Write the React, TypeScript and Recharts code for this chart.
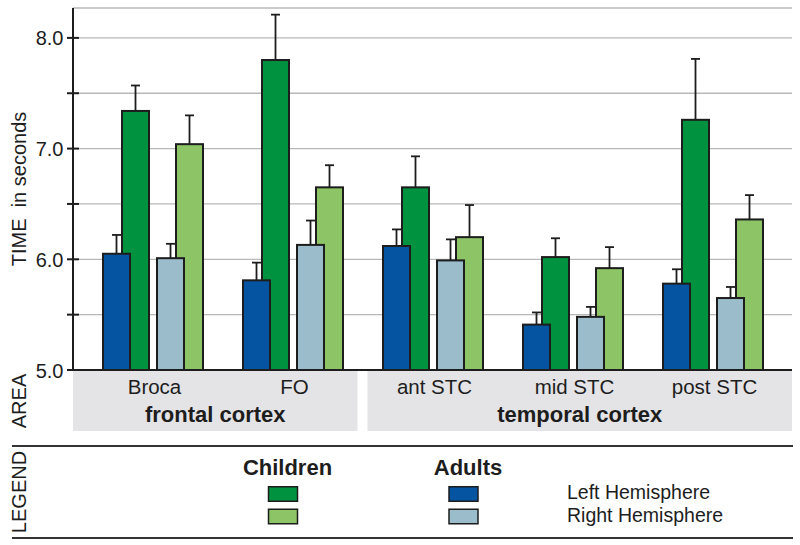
import { BarChart, Bar, XAxis, YAxis, CartesianGrid, Label } from 'recharts';

// Areas and their cortex groups
const areas = ['Broca', 'FO', 'ant STC', 'mid STC', 'post STC'];
const regions = [
  { name: 'frontal cortex', size: 2 },
  { name: 'temporal cortex', size: 3 },
];

// Mean time (s) and error per area
const childrenLeft = [7.34, 7.8, 6.65, 6.02, 7.26];
const childrenLeftErr = [0.23, 0.41, 0.28, 0.17, 0.55];
const adultsLeft = [6.05, 5.81, 6.12, 5.41, 5.78];
const adultsLeftErr = [0.17, 0.16, 0.15, 0.11, 0.13];
const childrenRight = [7.04, 6.65, 6.2, 5.92, 6.36];
const childrenRightErr = [0.26, 0.2, 0.29, 0.19, 0.22];
const adultsRight = [6.01, 6.13, 5.99, 5.48, 5.65];
const adultsRightErr = [0.13, 0.22, 0.19, 0.09, 0.1];

const yTicks = [5, 5.5, 6, 6.5, 7, 7.5, 8];
const hemispheres = ['Left Hemisphere', 'Right Hemisphere'];

const FONT = '"Liberation Sans", Arial, Helvetica, sans-serif';
const INK = '#1d1d1d';
const Y_MIN = 5;
const Y_MAX = 8.27;

// layout
const CHART_H = 432;
const PLOT_LEFT = 73;
const PLOT_RIGHT = 792;
const PAD = 9.5;
const BAND = (PLOT_RIGHT - PLOT_LEFT - 2 * PAD) / areas.length;

interface Series {
  key: string;
  values: number[];
  errors: number[];
  color: string;
  dx: number;
}

// drawn in this order so adults sit in front of children
const series: Series[] = [
  { key: 'childrenLeft', values: childrenLeft, errors: childrenLeftErr, color: '#00923f', dx: 23.5 },
  { key: 'adultsLeft', values: adultsLeft, errors: adultsLeftErr, color: '#0454a2', dx: -22.5 },
  { key: 'childrenRight', values: childrenRight, errors: childrenRightErr, color: '#8dc465', dx: 23.5 },
  { key: 'adultsRight', values: adultsRight, errors: adultsRightErr, color: '#9bbccb', dx: -22.5 },
];

const data = areas.map((area, i) => {
  const row: Record<string, string | number> = { area };
  series.forEach((s) => {
    row[s.key] = s.values[i];
    row[s.key + 'Err'] = s.errors[i];
  });
  return row;
});

function makeShape(s: Series) {
  return (p: any) => {
    const { x, y, width, height, payload } = p;
    const v = payload[s.key];
    const e = payload[s.key + 'Err'];
    const k = height / (v - Y_MIN);
    const bx = x + s.dx;
    const cx = bx + width / 2;
    const ey = y - e * k;
    return (
      <g>
        <line x1={cx} y1={y} x2={cx} y2={ey} stroke={INK} strokeWidth={1.8} />
        <line x1={cx - 4.5} y1={ey} x2={cx + 4.5} y2={ey} stroke={INK} strokeWidth={1.8} />
        <rect x={bx} y={y} width={width} height={height} fill={s.color} stroke={INK} strokeWidth={2} />
      </g>
    );
  };
}

function TimeTick(p: any) {
  const { x, y, payload } = p;
  const v = payload.value;
  return (
    <g>
      <line x1={x - 6} x2={x + 6} y1={y} y2={y} stroke={INK} strokeWidth={2} />
      {Number.isInteger(v) && (
        <text x={x - 9.5} y={y + 7.5} textAnchor="end" fontSize={20} fill={INK} fontFamily={FONT}>
          {v.toFixed(1)}
        </text>
      )}
    </g>
  );
}

function AreaTick(p: any) {
  const { x, y, index } = p;
  let start = 0;
  let box = null;
  regions.forEach((r, gi) => {
    if (index === start) {
      const bandLeft = x - BAND / 2;
      const left = gi === 0 ? PLOT_LEFT : bandLeft + 5;
      const right = gi === regions.length - 1 ? PLOT_RIGHT : bandLeft + r.size * BAND - 5;
      box = (
        <g>
          <rect x={left} y={y + 1} width={right - left} height={60} fill="#e4e4e6" />
          <text x={(left + right) / 2} y={y + 52} textAnchor="middle" fontSize={22} fontWeight="bold" fill={INK} fontFamily={FONT}>
            {r.name}
          </text>
        </g>
      );
    }
    start += r.size;
  });
  return (
    <g>
      {box}
      <text x={x + 2} y={y + 24} textAnchor="middle" fontSize={20.5} fill={INK} fontFamily={FONT}>
        {areas[index]}
      </text>
    </g>
  );
}

function SideLabel({ text, cy }: { text: string; cy: number }) {
  return (
    <text x={26} y={cy} transform={`rotate(-90, 26, ${cy})`} textAnchor="middle" fontSize={20} fill={INK} fontFamily={FONT}>
      {text}
    </text>
  );
}

function LegendPanel() {
  const groups = [
    { title: 'Children', cx: 283, items: [series[0], series[2]] },
    { title: 'Adults', cx: 463.5, items: [series[1], series[3]] },
  ];
  const rows = [54, 76.5];
  return (
    <svg width={800} height={545 - CHART_H} style={{ display: 'block' }}>
      <line x1={12} x2={793} y1={14} y2={14} stroke="#333" strokeWidth={2} />
      <line x1={12} x2={793} y1={106} y2={106} stroke="#333" strokeWidth={2} />
      <SideLabel text="LEGEND" cy={60} />
      {groups.map((g) => (
        <g key={g.title}>
          <text x={g.cx + 4.5} y={43} textAnchor="middle" fontSize={22} fontWeight="bold" fill={INK} fontFamily={FONT}>
            {g.title}
          </text>
          {g.items.map((s, i) => (
            <rect key={s.key} x={g.cx - 14.5} y={rows[i] + 0.75} width={29} height={14.5} fill={s.color} stroke={INK} strokeWidth={1.5} />
          ))}
        </g>
      ))}
      {hemispheres.map((h, i) => (
        <text key={h} x={567} y={rows[i] + 13} fontSize={19.5} fill={INK} fontFamily={FONT}>
          {h}
        </text>
      ))}
    </svg>
  );
}

export default function App() {
  return (
    <div style={{ position: 'absolute', left: 0, top: 0, width: 800, height: 545, background: '#fff' }}>
      <BarChart width={800} height={CHART_H} data={data} margin={{ top: 8, right: 8, bottom: 0, left: 0 }} barSize={27} barGap={0}>
        <CartesianGrid vertical={false} stroke="#b8b8b8" strokeWidth={1.3} />
        <XAxis
          dataKey="area"
          interval={0}
          height={CHART_H - 370}
          padding={{ left: PAD, right: PAD }}
          axisLine={{ stroke: INK, strokeWidth: 2 }}
          tickLine={false}
          tickSize={0}
          tickMargin={0}
          tick={(p: any) => <AreaTick {...p} />}
        >
          <Label content={(p: any) => <SideLabel text="AREA" cy={p.viewBox.y + p.viewBox.height / 2} />} />
        </XAxis>
        <XAxis xAxisId="top" orientation="top" dataKey="area" height={0} tick={false} tickLine={false} axisLine={{ stroke: INK, strokeWidth: 2 }} />
        <YAxis
          domain={[Y_MIN, Y_MAX]}
          ticks={yTicks}
          width={PLOT_LEFT}
          axisLine={{ stroke: INK, strokeWidth: 2 }}
          tickLine={false}
          tickSize={0}
          tickMargin={0}
          tick={(p: any) => <TimeTick {...p} />}
        >
          <Label content={(p: any) => <SideLabel text={'TIME\u00a0 in seconds'} cy={p.viewBox.y + p.viewBox.height / 2} />} />
        </YAxis>
        <YAxis yAxisId="right" orientation="right" width={0} domain={[0, 1]} tick={false} tickLine={false} axisLine={{ stroke: INK, strokeWidth: 2 }} />
        {series.map((s) => (
          <Bar key={s.key} dataKey={s.key} shape={makeShape(s)} isAnimationActive={false} />
        ))}
      </BarChart>
      <LegendPanel />
    </div>
  );
}
